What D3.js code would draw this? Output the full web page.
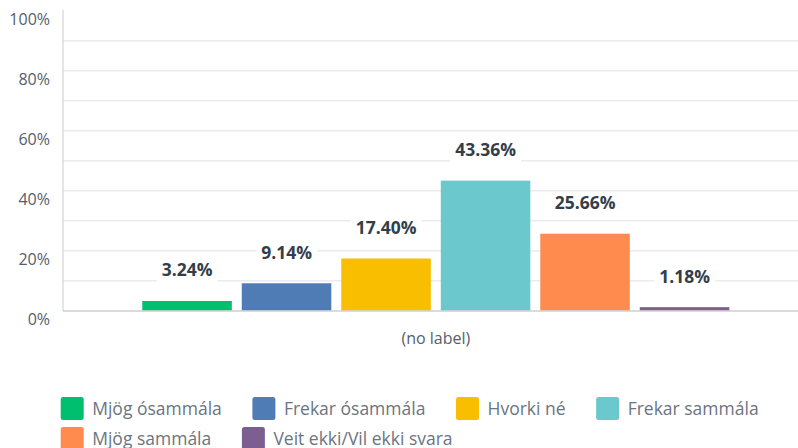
<!DOCTYPE html>
<html><head><meta charset="utf-8">
<script src="https://cdn.jsdelivr.net/npm/d3@7/dist/d3.min.js"></script>
<style>
body{margin:0;background:#fff;}
svg{display:block;font-family:"Open Sans",sans-serif;}
</style></head>
<body><svg id="c" width="798" height="448"></svg>
<script>
const categories = ["Mjög ósammála","Frekar ósammála","Hvorki né","Frekar sammála","Mjög sammála","Veit ekki/Vil ekki svara"];
const values = [3.24, 9.14, 17.40, 43.36, 25.66, 1.18];
const colors = ["#00bf6f","#507cb6","#f9be00","#6bc8cd","#ff8b4f","#7d5e90"];
const yTicks = [0,20,40,60,80,100];
const gridTicks = [10,20,30,40,50,60,70,80,90];
const xLabel = "(no label)";

const svg = d3.select("#c");
const x = d3.scaleBand().domain(categories).range([137.3, 734.3]).paddingInner(0.1).paddingOuter(0.05);
const y = d3.scaleLinear().domain([0,100]).range([310.7, 10.7]);

// gridlines
svg.append("g").selectAll("line").data(gridTicks).join("line")
  .attr("x1",63).attr("x2",798).attr("y1",d=>y(d)).attr("y2",d=>y(d))
  .attr("stroke","#ebebeb").attr("stroke-width",1.5);

// y axis labels
const yAxis = d3.axisLeft(y).tickValues(yTicks).tickFormat(d=>d+"%").tickSize(0).tickPadding(0);
const ga = svg.append("g").attr("transform","translate(50,0)").call(yAxis);
ga.select(".domain").remove();
ga.selectAll("text").attr("font-size",16).attr("fill","#545e6b").attr("dy","0.85em").attr("font-family","Open Sans");

// bars
svg.append("g").selectAll("rect").data(values).join("rect")
  .attr("x",(d,i)=>x(categories[i])).attr("width",x.bandwidth())
  .attr("y",d=>y(d)).attr("height",d=>y(0)-y(d))
  .attr("fill",(d,i)=>colors[i]);

// axis lines
svg.append("line").attr("x1",63).attr("x2",63).attr("y1",10).attr("y2",311).attr("stroke","#d4d4d4").attr("stroke-width",1.2);
svg.append("line").attr("x1",63).attr("x2",798).attr("y1",y(0)+0.3).attr("y2",y(0)+0.3).attr("stroke","#cfcfcf").attr("stroke-width",1.5);

// value labels
const lg = svg.append("g").selectAll("g").data(values).join("g");
lg.append("rect").attr("class","bg");
lg.append("text")
  .attr("x",(d,i)=>x(categories[i])+x.bandwidth()/2)
  .attr("y",d=>y(d)-24.5)
  .attr("text-anchor","middle").attr("font-size",17.5).attr("font-weight",700)
  .attr("fill","#333e48").text(d=>d.toFixed(2)+"%");
lg.each(function(){
  const t=d3.select(this).select("text").node().getBBox();
  d3.select(this).select("rect").attr("x",t.x-5).attr("y",t.y+2).attr("width",t.width+10).attr("height",t.height).attr("fill","#fff");
});

// x label
svg.append("text").attr("x",x.range()[0]+(x.range()[1]-x.range()[0])/2).attr("y",343.5)
  .attr("text-anchor","middle").attr("font-size",16).attr("fill","#545e6b").text(xLabel);

// legend (flow layout)
const leg = svg.append("g");
let lx = 60.7, ly = 397, rowH = 30, maxX = 790;
categories.forEach((c,i)=>{
  const g = leg.append("g");
  g.append("rect").attr("width",23).attr("height",23).attr("rx",2.5).attr("fill",colors[i]);
  const t = g.append("text").attr("x",31.5).attr("y",11.5).attr("dy","0.35em")
    .attr("font-size",17.5).attr("fill","#6b7480").text(c);
  const w = 31.5 + t.node().getComputedTextLength();
  if (lx + w > maxX) { lx = 60.7; ly += rowH; }
  g.attr("transform",`translate(${lx},${ly})`);
  lx += w + 30.6;
});
</script></body></html>
